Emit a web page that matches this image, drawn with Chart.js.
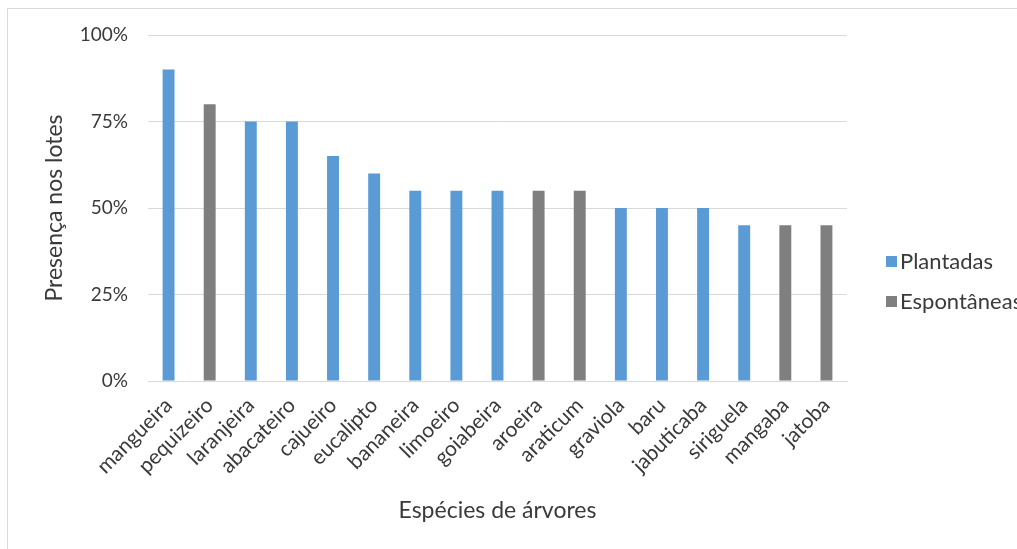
<!DOCTYPE html>
<html>
<head>
<meta charset="utf-8">
<script src="https://cdn.jsdelivr.net/npm/chart.js@4"></script>
<style>
  html, body { margin: 0; padding: 0; background: #fff; overflow: hidden; }
  #frame { position: absolute; left: 7px; top: 8px; width: 1100px; height: 600px; border: 1px solid #d9d9d9; }
  #wrap { position: absolute; left: 0; top: 0; width: 1060px; height: 549px; }
</style>
</head>
<body>
<div id="frame"></div>
<div id="wrap"><canvas id="chart"></canvas></div>
<script>
// espécies e presença nos lotes (%)
const especies = ['mangueira', 'pequizeiro', 'laranjeira', 'abacateiro', 'cajueiro', 'eucalipto',
  'bananeira', 'limoeiro', 'goiabeira', 'aroeira', 'araticum', 'graviola', 'baru',
  'jabuticaba', 'siriguela', 'mangaba', 'jatoba'];
const plantadas   = [90, null, 75, 75, 65, 60, 55, 55, 55, null, null, 50, 50, 50, 45, null, null];
const espontaneas = [null, 80, null, null, null, null, null, null, null, 55, 55, null, null, null, null, 45, 45];
const yTicks = [0, 25, 50, 75, 100];

const FONT = 'Lato, "Open Sans", sans-serif';
const TEXT = '#3a3a3a';
const GRID = '#d9d9d9';

// legenda lateral desenhada à direita da área do gráfico
const legendaLateral = {
  id: 'legendaLateral',
  afterDraw(chart) {
    const ctx = chart.ctx;
    const x = chart.chartArea.right + 39;
    ctx.save();
    ctx.font = '22px ' + FONT;
    ctx.textBaseline = 'middle';
    chart.data.datasets.forEach((ds, i) => {
      const y = 261 + i * 40;
      ctx.fillStyle = ds.backgroundColor;
      ctx.fillRect(x, y - 5, 11, 11);
      ctx.fillStyle = TEXT;
      ctx.fillText(ds.label, x + 14, y + 1);
    });
    ctx.restore();
  }
};

new Chart(document.getElementById('chart'), {
  type: 'bar',
  data: {
    labels: especies,
    datasets: [
      { label: 'Plantadas', data: plantadas, backgroundColor: '#5b9bd5' },
      { label: 'Espontâneas', data: espontaneas, backgroundColor: '#7f7f7f' }
    ]
  },
  options: {
    responsive: true,
    maintainAspectRatio: false,
    animation: false,
    skipNull: true,
    categoryPercentage: 1,
    barPercentage: 0.29,
    layout: { padding: { left: 0, top: 35, right: 1060 - 847, bottom: 0 } },
    plugins: {
      legend: { display: false },
      tooltip: { enabled: false }
    },
    scales: {
      x: {
        grid: { display: false },
        border: { color: GRID, width: 1 },
        ticks: {
          color: TEXT,
          font: { family: FONT, size: 21 },
          maxRotation: 45,
          minRotation: 45,
          autoSkip: false,
          padding: 4
        },
        title: {
          display: true,
          text: 'Espécies de árvores',
          color: TEXT,
          font: { family: FONT, size: 23 },
          padding: { top: 0, bottom: 25 }
        },
        afterFit(scale) { scale.height = 549 - 381; }
      },
      y: {
        min: 0,
        max: 100,
        afterBuildTicks(scale) { scale.ticks = yTicks.map(v => ({ value: v })); },
        grid: { color: GRID, lineWidth: 1, drawTicks: false },
        border: { display: false },
        ticks: {
          color: TEXT,
          font: { family: FONT, size: 19 },
          padding: 20,
          callback: v => v + '%'
        },
        title: {
          display: true,
          text: 'Presença nos lotes',
          color: TEXT,
          font: { family: FONT, size: 23 },
          padding: { top: 41, bottom: 0 }
        },
        afterFit(scale) { scale.width = 148; }
      }
    }
  },
  plugins: [legendaLateral]
});
</script>
</body>
</html>
